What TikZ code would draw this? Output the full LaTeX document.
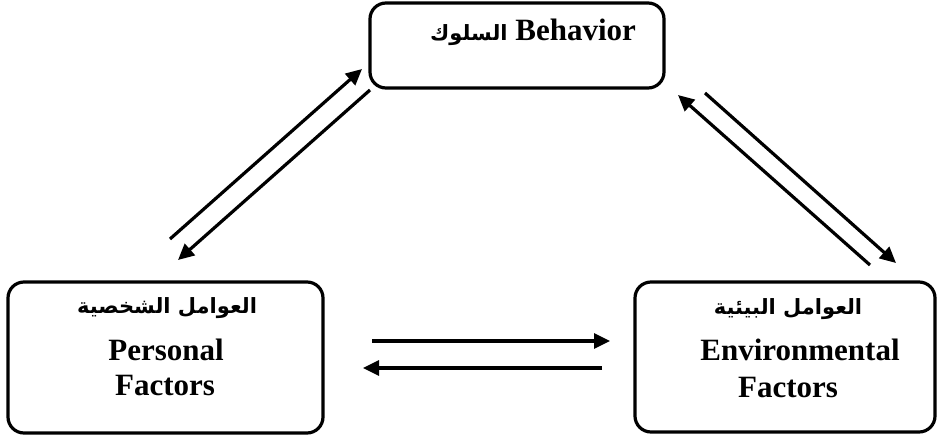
\documentclass[tikz,border=0pt]{standalone}
\usepackage{fontspec}
\setmainfont{Liberation Serif}
\newfontfamily\arabicfont[Script=Arabic]{DejaVu Sans}
\TeXXeTstate=1
\usetikzlibrary{arrows.meta}
\begin{document}
\begin{tikzpicture}[x=1pt,y=-1pt,
  box/.style={draw, line width=3.2pt, rounded corners=16pt, inner sep=0pt},
  lbl/.style={font=\bfseries\fontsize{31}{35}\selectfont, anchor=base, inner sep=0pt},
  arlbl/.style={font=\arabicfont\bfseries\fontsize{21}{25}\selectfont, anchor=base, inner sep=0pt},
  conn/.style={line width=3.2pt, -{Triangle[length=16pt,width=15pt]}}]
\useasboundingbox (0,0) rectangle (937,437);
% boxes
\node[box, minimum width=294pt, minimum height=85pt] (beh) at (517,45.5) {};
\node[box, minimum width=315pt, minimum height=151pt] (pers) at (165.5,357.5) {};
\node[box, minimum width=300pt, minimum height=150pt] (env) at (785,357) {};
% texts
\node[lbl] (behT) at (533,40) {{\arabicfont\fontsize{21}{25}\selectfont\beginR السلوك\endR} Behavior};
\node[arlbl] (persA) at (167,313) {\beginR العوامل الشخصية\endR};
\node[lbl] (persB) at (166,360) {Personal};
\node[lbl] (persC) at (165,395) {Factors};
\node[arlbl] (envA) at (788,314) {\beginR العوامل البيئية\endR};
\node[lbl] (envB) at (800,360) {Environmental};
\node[lbl] (envC) at (788,397) {Factors};
% connector end points
\coordinate (pb1) at (170,239);
\coordinate (bp1) at (362,69);
\coordinate (bp2) at (370,90);
\coordinate (pb2) at (178,260);
\coordinate (eb1) at (870,265);
\coordinate (be1) at (678,95);
\coordinate (be2) at (705,93);
\coordinate (eb2) at (896,263);
\coordinate (pe1) at (372,341);
\coordinate (ep1) at (610,341);
\coordinate (ep2) at (602,368);
\coordinate (pe2) at (363,368);
% connectors
\draw[conn] (pb1) -- (bp1);
\draw[conn] (bp2) -- (pb2);
\draw[conn] (eb1) -- (be1);
\draw[conn] (be2) -- (eb2);
\draw[conn] (pe1) -- (ep1);
\draw[conn] (ep2) -- (pe2);
\end{tikzpicture}
\end{document}
